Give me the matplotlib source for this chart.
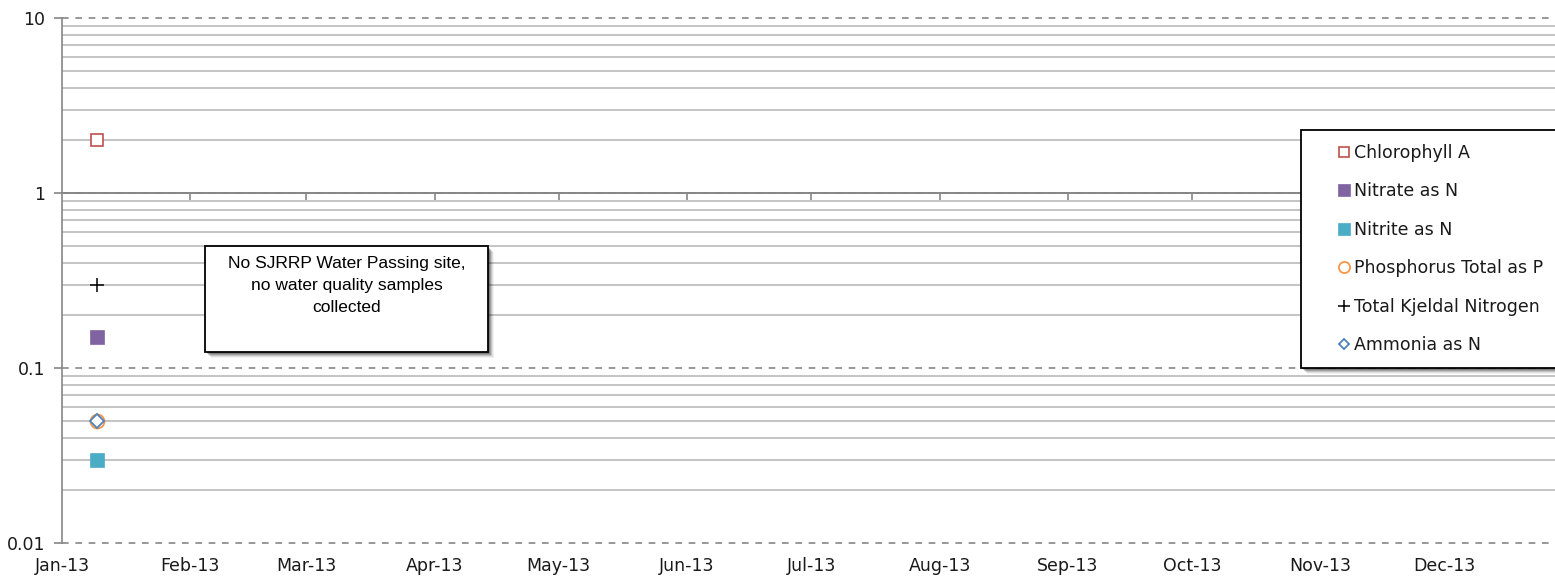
import datetime as dt

import matplotlib

matplotlib.use("Agg")
import matplotlib.pyplot as plt
from matplotlib.lines import Line2D
from matplotlib.patches import Rectangle
from matplotlib.ticker import FixedLocator, NullFormatter

# Single sampling event, concentrations in mg/L (Chlorophyll A in ug/L)
sample_date = dt.datetime(2013, 1, 9, 12)
analytes = [
    "Chlorophyll A",
    "Nitrate as N",
    "Nitrite as N",
    "Phosphorus Total as P",
    "Total Kjeldal Nitrogen",
    "Ammonia as N",
]
values = [2.0, 0.15, 0.03, 0.05, 0.3, 0.05]

month_starts = [dt.datetime(2013, m, 1) for m in range(1, 13)]
month_labels = [d.strftime("%b-%y") for d in month_starts]
y_ticks = [0.01, 0.1, 1, 10]
y_labels = ["0.01", "0.1", "1", "10"]
note = "No SJRRP Water Passing site,\nno water quality samples\ncollected"

# marker, size, face, edge, edge width
styles = {
    "Chlorophyll A": ("s", 9, "white", "#C0504D", 1.2),
    "Nitrate as N": ("s", 10, "#8064A2", "#8064A2", 0.5),
    "Nitrite as N": ("s", 10, "#4BACC6", "#4BACC6", 0.5),
    "Phosphorus Total as P": ("o", 10, "white", "#F79646", 1.3),
    "Total Kjeldal Nitrogen": ("+", 10, "black", "black", 1.1),
    "Ammonia as N": ("D", 7, "white", "#4F81BD", 1.3),
}

W, H = 1555, 579
GRID = "#868686"
TEXT = "#1a1a1a"
FONT = "DejaVu Sans"
FSIZE = 12.5

fig = plt.figure(figsize=(W / 100, H / 100), dpi=100)
ax = fig.add_axes([62 / W, 1 - 543 / H, (1573 - 62) / W, (543 - 18) / H])


def frac(x, y):
    """pixel position (from top-left) -> figure fraction"""
    return x / W, 1 - y / H


def boxed(x0, y0, x1, y1, z):
    # soft drop shadow, then a white box with a black border
    for off, a in [(6, 0.05), (5, 0.08), (4, 0.12), (3, 0.18), (2, 0.2)]:
        fig.add_artist(
            Rectangle(
                frac(x0 + off, y1 + off),
                (x1 - x0) / W,
                (y1 - y0) / H,
                transform=fig.transFigure,
                facecolor="black",
                edgecolor="none",
                alpha=a,
                zorder=z,
            )
        )
    fig.add_artist(
        Rectangle(
            frac(x0, y1),
            (x1 - x0) / W,
            (y1 - y0) / H,
            transform=fig.transFigure,
            facecolor="white",
            edgecolor="black",
            linewidth=1.3,
            zorder=z,
        )
    )


for name, val in zip(analytes, values):
    m, ms, fc, ec, mew = styles[name]
    ax.plot(
        [sample_date], [val], linestyle="none", marker=m, markersize=ms,
        markerfacecolor=fc, markeredgecolor=ec, markeredgewidth=mew, zorder=5,
    )

ax.set_yscale("log")
ax.set_ylim(0.01, 10)
ax.set_xlim(dt.datetime(2013, 1, 1), dt.datetime(2014, 1, 1))

ax.yaxis.set_major_locator(FixedLocator(y_ticks))
ax.set_yticklabels(y_labels)
ax.yaxis.set_minor_locator(
    FixedLocator([k * 10.0**e for e in (-2, -1, 0) for k in range(2, 10)])
)
ax.yaxis.set_minor_formatter(NullFormatter())
ax.tick_params(axis="y", which="major", direction="out", length=6, width=1.2,
               color=GRID, pad=6, labelsize=FSIZE, labelcolor=TEXT)
ax.tick_params(axis="y", which="minor", length=0)

ax.set_xticks(month_starts)
ax.set_xticklabels(month_labels)
ax.tick_params(axis="x", length=0, pad=10, labelsize=FSIZE, labelcolor=TEXT)
for lab in ax.get_xticklabels() + ax.get_yticklabels():
    lab.set_fontfamily(FONT)

ax.grid(True, axis="y", which="minor", color="#c4c4c4", linewidth=1.4)
ax.grid(True, axis="y", which="major", color=GRID, linewidth=1.2,
        linestyle=(0, (4, 4)))
ax.grid(False, axis="x")
for gl in ax.get_ygridlines():
    gl.set_clip_on(False)

for side in ("top", "right", "bottom"):
    ax.spines[side].set_visible(False)
ax.spines["left"].set_color(GRID)
ax.spines["left"].set_linewidth(1.2)

# horizontal axis crosses at 1, labels kept at the bottom
cross = (0 - (-2)) / 3
sec = ax.secondary_xaxis(cross)
sec.set_alignment("bottom")
sec.set_xticks(month_starts[1:])
sec.xaxis.set_major_formatter(NullFormatter())
sec.tick_params(direction="out", length=5, width=1.2, color=GRID)
sec.spines["bottom"].set_color(GRID)
sec.spines["bottom"].set_linewidth(1.4)

# note box
boxed(205, 246, 488, 352, 3)
fig.text(*frac(346.5, 256), note, ha="center", va="top", fontsize=12.5,
         family="Liberation Sans", color="black", linespacing=1.58, zorder=4)

# legend in its own framed box
boxed(1301, 130, 1580, 368, 3)
handles = []
for name in analytes:
    m, ms, fc, ec, mew = styles[name]
    handles.append(
        Line2D([], [], linestyle="none", marker=m, markersize=ms * 0.8,
               markerfacecolor=fc, markeredgecolor=ec, markeredgewidth=mew)
    )
leg = fig.legend(
    handles, analytes, loc="upper left", bbox_to_anchor=frac(1339, 144),
    frameon=False, borderpad=0, borderaxespad=0, handlelength=0.6,
    handletextpad=0.25, labelspacing=1.18,
    prop={"family": FONT, "size": FSIZE},
)
leg.set_zorder(6)
for t in leg.get_texts():
    t.set_color(TEXT)

fig.savefig("out.png", dpi=100)
